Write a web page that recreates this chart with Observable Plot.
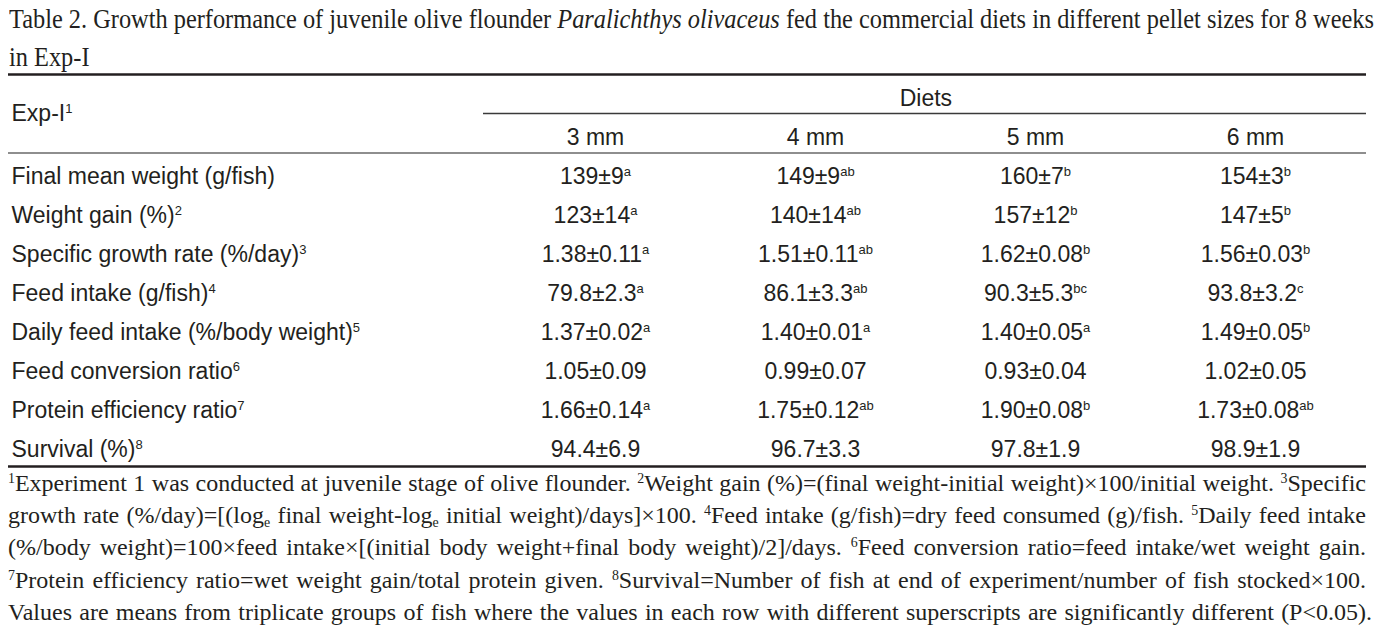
<!DOCTYPE html>
<html>
<head>
<meta charset="utf-8">
<script src="https://cdn.jsdelivr.net/npm/d3@7"></script>
<script src="https://cdn.jsdelivr.net/npm/@observablehq/plot@0.6"></script>
<style>
  html, body { margin: 0; padding: 0; background: #fff; }
  #page { position: relative; width: 1384px; height: 635px; overflow: hidden; color: #231f20; }
  .ln { position: absolute; white-space: nowrap; font-family: "Liberation Serif", "Times New Roman", serif; line-height: 1; }
  .ln > span { display: inline-block; white-space: nowrap; transform-origin: 0 50%; }
  .title { font-size: 27px; }
  .note { font-size: 24px; }
  .ln sup { font-size: 0.58em; vertical-align: 0; position: relative; top: -0.55em; line-height: 0; }
  .ln sub { font-size: 0.58em; vertical-align: 0; position: relative; top: 0.3em; line-height: 0; }
  #chart { position: absolute; left: 0; top: 70px; width: 1384px; }
  #chart svg { display: block; }
</style>
</head>
<body>
<div id="page">
  <div id="t1" class="ln title" style="left:9px; top:6px;"><span>Table 2. Growth performance of juvenile olive flounder <i>Paralichthys olivaceus</i> fed the commercial diets in different pellet sizes for 8 weeks</span></div>
  <div id="t2" class="ln title" style="left:9px; top:44px;"><span>in Exp-I</span></div>
  <div id="chart"></div>
  <div id="f1" class="ln note" style="left:8px; top:471px;"><span><sup>1</sup>Experiment 1 was conducted at juvenile stage of olive flounder. <sup>2</sup>Weight gain (%)=(final weight-initial weight)×100/initial weight. <sup>3</sup>Specific</span></div>
  <div id="f2" class="ln note" style="left:8px; top:503px;"><span>growth rate (%/day)=[(log<sub>e</sub> final weight-log<sub>e</sub> initial weight)/days]×100. <sup>4</sup>Feed intake (g/fish)=dry feed consumed (g)/fish. <sup>5</sup>Daily feed intake</span></div>
  <div id="f3" class="ln note" style="left:8px; top:535px;"><span>(%/body weight)=100×feed intake×[(initial body weight+final body weight)/2]/days. <sup>6</sup>Feed conversion ratio=feed intake/wet weight gain.</span></div>
  <div id="f4" class="ln note" style="left:8px; top:568px;"><span><sup>7</sup>Protein efficiency ratio=wet weight gain/total protein given. <sup>8</sup>Survival=Number of fish at end of experiment/number of fish stocked×100.</span></div>
  <div id="f5" class="ln note" style="left:8px; top:600px;"><span>Values are means from triplicate groups of fish where the values in each row with different superscripts are significantly different (P&lt;0.05).</span></div>
</div>
<script>
// ---------- data ----------
const sizes = ["3 mm", "4 mm", "5 mm", "6 mm"];
const groupHeader = "Diets";
const stubHeader = "Exp-I";
const stubHeaderNote = "1";
const rowLabels = [
  "Final mean weight (g/fish)",
  "Weight gain (%)",
  "Specific growth rate (%/day)",
  "Feed intake (g/fish)",
  "Daily feed intake (%/body weight)",
  "Feed conversion ratio",
  "Protein efficiency ratio",
  "Survival (%)"
];
const rowNotes = ["", "2", "3", "4", "5", "6", "7", "8"];
const values3mm = ["139±9", "123±14", "1.38±0.11", "79.8±2.3", "1.37±0.02", "1.05±0.09", "1.66±0.14", "94.4±6.9"];
const sups3mm   = ["a", "a", "a", "a", "a", "", "a", ""];
const values4mm = ["149±9", "140±14", "1.51±0.11", "86.1±3.3", "1.40±0.01", "0.99±0.07", "1.75±0.12", "96.7±3.3"];
const sups4mm   = ["ab", "ab", "ab", "ab", "a", "", "ab", ""];
const values5mm = ["160±7", "157±12", "1.62±0.08", "90.3±5.3", "1.40±0.05", "0.93±0.04", "1.90±0.08", "97.8±1.9"];
const sups5mm   = ["b", "b", "b", "bc", "a", "", "b", ""];
const values6mm = ["154±3", "147±5", "1.56±0.03", "93.8±3.2", "1.49±0.05", "1.02±0.05", "1.73±0.08", "98.9±1.9"];
const sups6mm   = ["b", "b", "b", "c", "b", "", "ab", ""];

// ---------- tables built from the arrays ----------
const SEP = "|";
const valueCols = [values3mm, values4mm, values5mm, values6mm];
const supCols = [sups3mm, sups4mm, sups5mm, sups6mm];
const cells = [];
sizes.forEach((s, j) => rowLabels.forEach((r, i) => cells.push({size: s, row: r, value: valueCols[j][i], sup: supCols[j][i]})));
const rows = rowLabels.map((r, i) => ({row: r, note: rowNotes[i]}));
const HEAD1 = "head-group", HEAD2 = "head-sizes";
const lastRow = rowLabels[rowLabels.length - 1];

const ink = "#231f20";
const chart = Plot.plot({
  width: 1384,
  height: 400,
  marginLeft: 8,
  marginRight: 18,
  marginTop: 0,
  marginBottom: 0,
  x: {type: "band", domain: sizes, range: [483, 1366], padding: 0, axis: null},
  y: {type: "point", domain: [HEAD1, HEAD2, ...rowLabels], range: [27, 379], padding: 0, axis: null},
  style: {fontFamily: "'Liberation Sans', Arial, sans-serif", fontSize: "23px", color: ink, background: "transparent"},
  marks: [
    // rules
    Plot.ruleY([HEAD1], {y: d => d, dy: -24, stroke: ink, strokeWidth: 2.6}),
    Plot.ruleY([HEAD1], {y: d => d, dy: 15, insetLeft: 475, stroke: "#3a3a3a", strokeWidth: 1.3}),
    Plot.ruleY([HEAD2], {y: d => d, dy: 15.5, stroke: "#8e8e8e", strokeWidth: 2.2}),
    Plot.ruleY([lastRow], {y: d => d, dy: 17, stroke: ink, strokeWidth: 2.6}),
    // headers
    Plot.text([stubHeader], {y: () => HEAD1, text: d => d + SEP + stubHeaderNote, frameAnchor: "left", textAnchor: "start", dx: 3, dy: 15, fill: ink}),
    Plot.text([groupHeader], {x: () => sizes[1], y: () => HEAD1, text: d => d, dx: 110.4, fill: ink}),
    Plot.text(sizes, {x: d => d, y: () => HEAD2, text: d => d, fill: ink}),
    // stub
    Plot.text(rows, {y: "row", text: d => d.row + SEP + d.note, frameAnchor: "left", textAnchor: "start", dx: 3, fill: ink}),
    // body cells
    Plot.text(cells, {x: "size", y: "row", text: d => d.value + SEP + d.sup, fill: ink})
  ]
});

// turn the part after SEP into a superscript
d3.select(chart).selectAll("text").each(function () {
  const t = this.textContent;
  if (!t.includes(SEP)) return;
  const [main, sup] = t.split(SEP);
  this.textContent = main;
  if (sup) {
    d3.select(this).append("tspan").attr("font-size", "13px").attr("dy", "-8px").text(sup);
  }
});
document.getElementById("chart").appendChild(chart);

// fit serif lines to justified widths
function fit(id, target, justify, forcedScale) {
  const span = document.getElementById(id).firstElementChild;
  const w = span.getBoundingClientRect().width;
  let scale = 1;
  if (forcedScale) scale = forcedScale;
  else if (w > target) scale = target / w;
  if (scale !== 1) span.style.transform = `scaleX(${scale})`;
  if (justify && w * scale < target) {
    const n = (span.textContent.match(/ /g) || []).length;
    span.style.wordSpacing = ((target - w * scale) / n / scale) + "px";
  }
  return scale;
}
const ts = fit("t1", 1365, true);
fit("t2", 0, false, ts < 1 ? ts : 1);
fit("f1", 1358, true);
fit("f2", 1358, true);
fit("f3", 1358, true);
fit("f4", 1358, true);
fit("f5", 1364, true);
</script>
</body>
</html>
